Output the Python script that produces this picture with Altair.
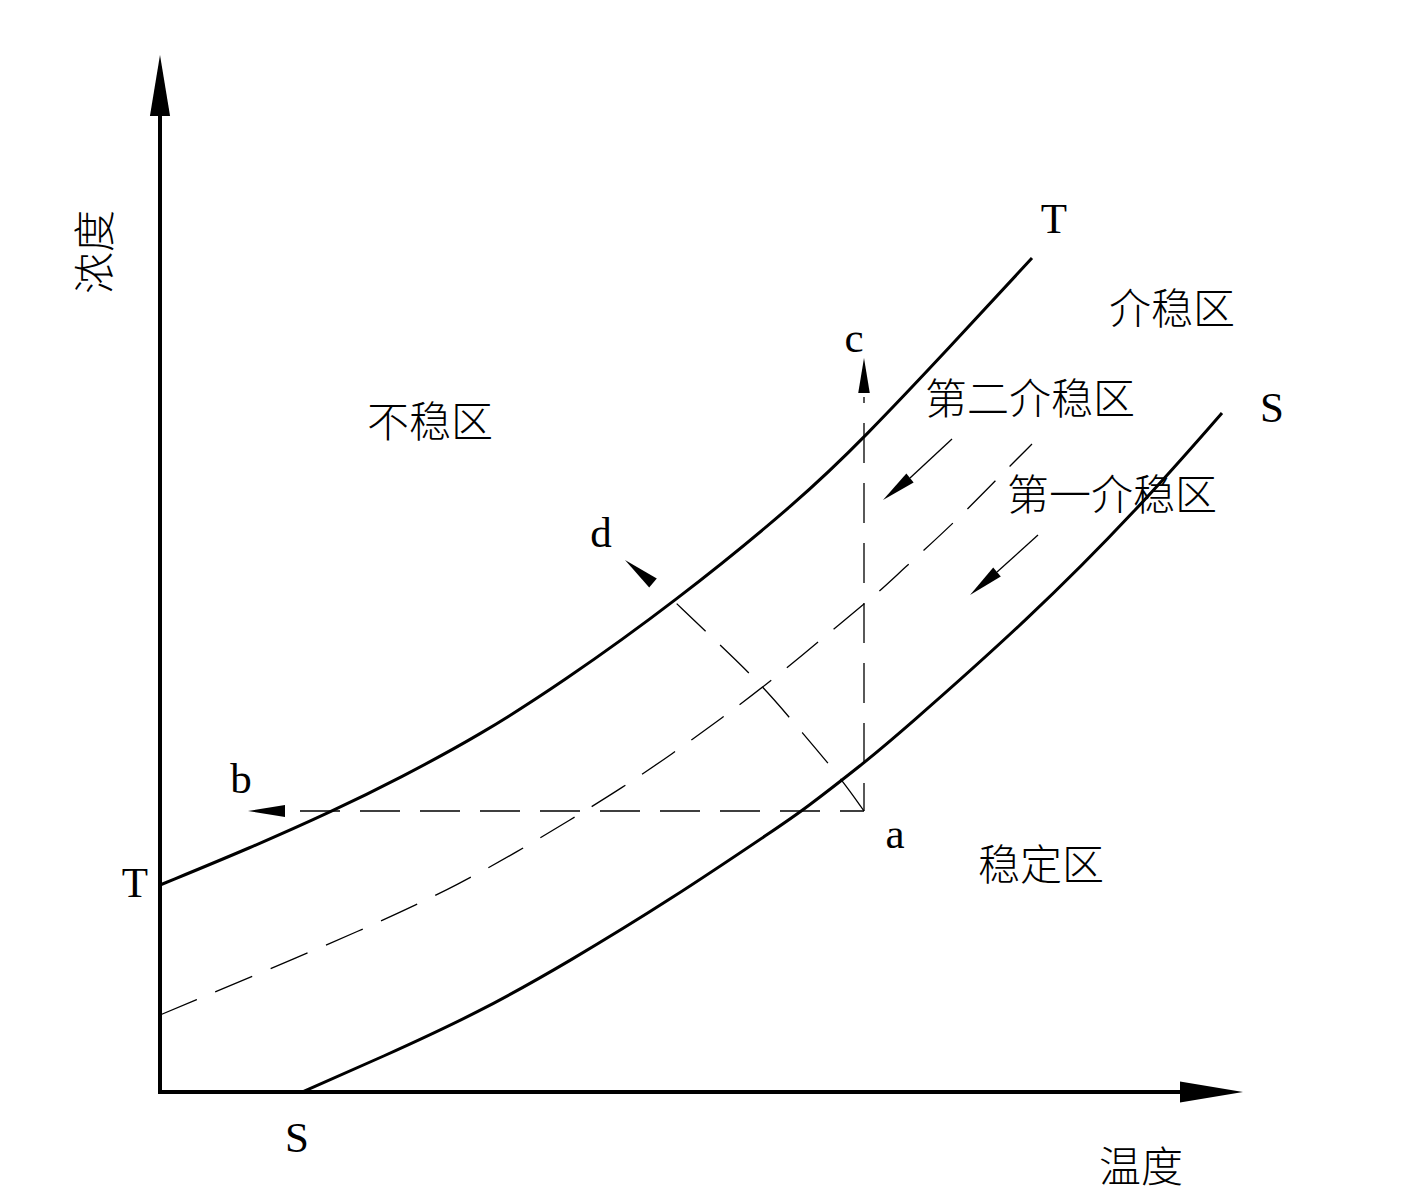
import math

import altair as alt
import pandas as pd

# Temperature (x) and concentration (y), arbitrary units.
X_DOMAIN = [-16, 125.5]
Y_DOMAIN = [-11.1, 109.2]
W, H = 1415, 1203

# Super-solubility curve T-T
t_x = [0, 9, 17.3, 24, 32, 40, 51.5, 64, 70.4, 79, 87.2]
t_y = [20.7, 24.4, 28.1, 31.4, 35.7, 40.8, 49.0, 59.2, 65.4, 74.5, 83.4]

# Solubility curve S-S
s_x = [14.2, 22, 32, 41, 51, 62, 64.2, 70.4, 74, 87, 97.7, 106.2]
s_y = [0, 3.4, 8.0, 13.1, 19.2, 26.6, 28.1, 32.9, 35.9, 47.4, 58.2, 67.9]

# Boundary between the first and the second metastable zone
m_x = [0, 22, 30.3, 35.7, 41, 46.2, 51.2, 56.2, 61, 68.7, 72, 74, 79.5, 83.8, 87.2]
m_y = [7.7, 16.9, 21.0, 24.0, 27.2, 30.4, 33.8, 37.4, 41.0, 47.4, 50.1, 52.0, 57.0, 61.4, 64.8]

# Paths leaving state point a (cooling -> b, concentrating -> c, both -> d)
ab_x = [70.4, 13.1]
ab_y = [28.1, 28.1]
ac_x = [70.4, 70.4]
ac_y = [28.1, 69.5]
ad_x = [70.4, 68, 64, 60.2, 55.7, 51.5]
ad_y = [28.1, 31.5, 36.2, 40.7, 45.0, 49.0]

# Shafts of the two zone pointers
z1_x = [79.2, 75.0]
z1_y = [65.3, 61.4]
z2_x = [87.8, 83.7]
z2_y = [55.7, 52.0]

# Coordinate axes
xaxis_x = [0, 102.5]
xaxis_y = [0, 0]
yaxis_x = [0, 0]
yaxis_y = [0, 98.0]

# Arrowheads: tip x, tip y, base x, base y
head_tip_x = [0, 108.3, 8.8, 70.4, 46.5, 72.3, 81.0]
head_tip_y = [103.7, 0, 28.1, 73.4, 53.2, 59.2, 49.7]
head_base_x = [0, 102.0, 12.5, 70.4, 49.3, 75.0, 83.7]
head_base_y = [97.6, 0, 28.1, 69.9, 50.9, 61.4, 52.0]

# Letter labels (anchored at the text baseline)
let_text = ["T", "T", "S", "S", "a", "b", "c", "d"]
let_x = [89.4, -2.5, 111.2, 13.7, 73.5, 8.1, 69.4, 44.1]
let_y = [85.9, 19.5, 67.0, -6.0, 24.4, 29.9, 74.0, 54.5]

# Zone names and axis titles
zone_text = ["不稳区", "稳定区", "介稳区", "第二介稳区", "第一介稳区", "温度"]
zone_x = [27.0, 88.1, 101.2, 87.0, 95.2, 98.1]
zone_y = [65.5, 21.2, 76.8, 67.8, 58.2, -9.0]
ytitle_text = ["浓度"]
ytitle_x = [-5.0]
ytitle_y = [84.0]

PX_PER_X = W / (X_DOMAIN[1] - X_DOMAIN[0])
PX_PER_Y = H / (Y_DOMAIN[1] - Y_DOMAIN[0])

xs = alt.Scale(domain=X_DOMAIN, nice=False, zero=False)
ys = alt.Scale(domain=Y_DOMAIN, nice=False, zero=False)
CJK = "Noto Sans CJK SC"
LATIN = "Liberation Serif"


def path_df(xv, yv):
    return pd.DataFrame({"x": xv, "y": yv, "k": list(range(len(xv)))})


def path_layer(df, width, dash=None, cap="butt", dash_offset=0, interp="linear"):
    kw = dict(color="black", strokeWidth=width, strokeCap=cap, interpolate=interp)
    if dash:
        kw["strokeDash"] = dash
        kw["strokeDashOffset"] = dash_offset
    return alt.Chart(df).mark_line(**kw).encode(
        x=alt.X("x:Q", scale=xs, axis=None),
        y=alt.Y("y:Q", scale=ys, axis=None),
        order="k:Q",
    )


layers = []

# axes
layers.append(path_layer(path_df(xaxis_x, xaxis_y), 4, cap="square"))
layers.append(path_layer(path_df(yaxis_x, yaxis_y), 4, cap="square"))

# main curves, smoothed through the read points
layers.append(path_layer(path_df(t_x, t_y), 3, interp="basis"))
layers.append(path_layer(path_df(s_x, s_y), 3, interp="basis"))
layers.append(path_layer(path_df(m_x, m_y), 1.3, dash=[40, 20], interp="basis"))

# paths from point a
layers.append(path_layer(path_df(ab_x, ab_y), 1.3, dash=[40, 20], dash_offset=16))
layers.append(path_layer(path_df(ac_x, ac_y), 1.3, dash=[40, 20], dash_offset=12))
layers.append(path_layer(path_df(ad_x, ad_y), 1.3, dash=[40, 20], interp="basis"))

# zone pointers
layers.append(path_layer(path_df(z1_x, z1_y), 1.3))
layers.append(path_layer(path_df(z2_x, z2_y), 1.3))

# arrowheads placed halfway between tip and base, rotated along base->tip
hx, hy, ha, hs = [], [], [], []
for tx, ty, bx, by in zip(head_tip_x, head_tip_y, head_base_x, head_base_y):
    dx = (tx - bx) * PX_PER_X
    dy = (ty - by) * PX_PER_Y
    hx.append((tx + bx) / 2)
    hy.append((ty + by) / 2)
    ha.append(math.degrees(math.atan2(dx, dy)) % 360)
    hs.append(dx * dx + dy * dy)
heads = pd.DataFrame({"x": hx, "y": hy, "angle": ha, "size": hs})
layers.append(
    alt.Chart(heads)
    .mark_point(shape="M0,-1L0.33,1L-0.33,1Z", filled=True, color="black", opacity=1, strokeWidth=0)
    .encode(
        x=alt.X("x:Q", scale=xs, axis=None),
        y=alt.Y("y:Q", scale=ys, axis=None),
        angle=alt.Angle("angle:Q", scale=None),
        size=alt.Size("size:Q", scale=None, legend=None),
    )
)

# letter labels
letters = pd.DataFrame({"t": let_text, "x": let_x, "y": let_y})
layers.append(
    alt.Chart(letters)
    .mark_text(font=LATIN, fontSize=43, align="center", baseline="alphabetic", color="black")
    .encode(x=alt.X("x:Q", scale=xs, axis=None), y=alt.Y("y:Q", scale=ys, axis=None), text="t:N")
)

# zone names
zones = pd.DataFrame({"t": zone_text, "x": zone_x, "y": zone_y})
layers.append(
    alt.Chart(zones)
    .mark_text(font=CJK, fontSize=42, fontWeight=300, align="center", baseline="alphabetic", color="black")
    .encode(x=alt.X("x:Q", scale=xs, axis=None), y=alt.Y("y:Q", scale=ys, axis=None), text="t:N")
)

# vertical axis title
ytitle = pd.DataFrame({"t": ytitle_text, "x": ytitle_x, "y": ytitle_y})
layers.append(
    alt.Chart(ytitle)
    .mark_text(font=CJK, fontSize=42, fontWeight=300, align="center", baseline="alphabetic",
               angle=270, color="black")
    .encode(x=alt.X("x:Q", scale=xs, axis=None), y=alt.Y("y:Q", scale=ys, axis=None), text="t:N")
)

chart = (
    alt.layer(*layers)
    .properties(width=W, height=H, autosize=alt.AutoSizeParams(type="none"), padding=0, background="white")
    .configure_view(stroke=None)
)

chart.save("out.html", embed_options={"renderer": "svg", "actions": False})
